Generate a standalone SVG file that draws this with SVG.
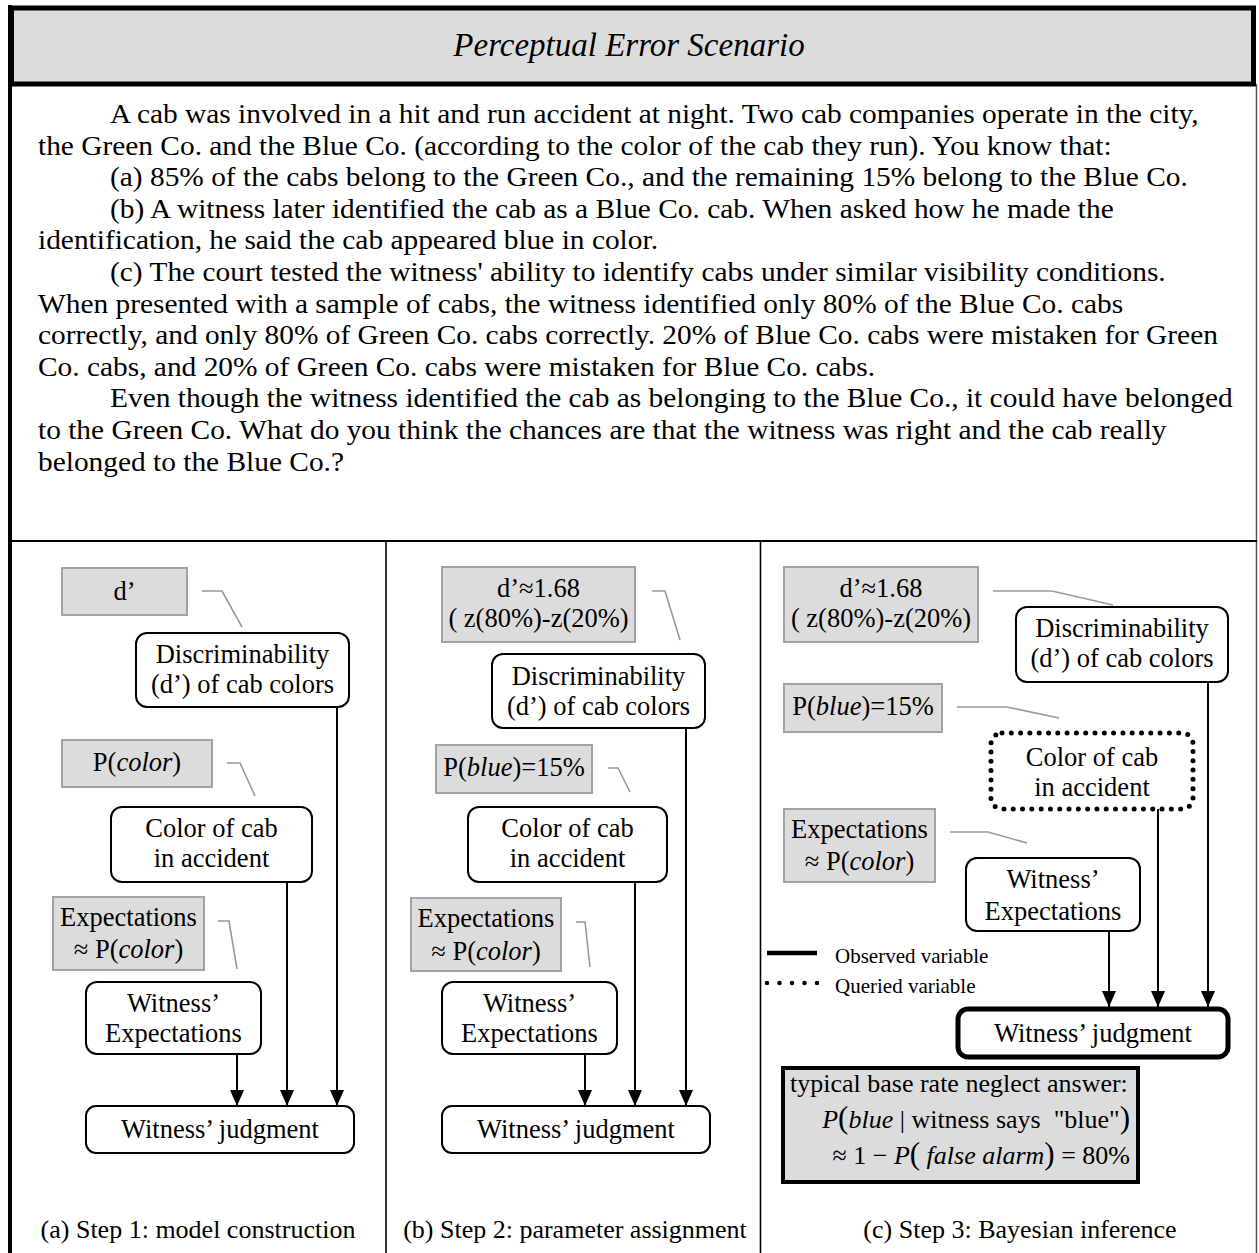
<svg xmlns="http://www.w3.org/2000/svg" width="1259" height="1253" viewBox="0 0 1259 1253">
  <style>
    text { font-family: "Liberation Serif", "Times New Roman", serif; fill: #000; }
    .body { font-size: 28px; }
    .title { font-size: 33px; font-style: italic; }
    .n { font-size: 26.5px; text-anchor: middle; }
    .cap { font-size: 26px; text-anchor: middle; }
    .leg { font-size: 21px; }
    .it { font-style: italic; }
    .node { fill: #fff; stroke: #000; stroke-width: 2; }
    .param { fill: #dcdcdc; stroke: #a3a3a3; stroke-width: 2; }
    .lead { fill: none; stroke: #999; stroke-width: 1.6; }
    .edge { fill: none; stroke: #000; stroke-width: 2; marker-end: url(#arrow); }
    .frame { fill: none; stroke: #000; }
  </style>
  <defs>
    <marker id="arrow" markerUnits="userSpaceOnUse" markerWidth="16" markerHeight="14" viewBox="0 0 16 14" refX="16" refY="7" orient="auto">
      <path d="M0,0 L16,7 L0,14 Z" fill="#000"/>
    </marker>
  </defs>

  <!-- page frame -->
  <g id="frame">
    <line class="frame" x1="10" y1="5" x2="10" y2="1253" stroke-width="4"/>
    <line x1="1256.5" y1="84" x2="1256.5" y2="1253" stroke="#555" stroke-width="1.5"/>
    <line class="frame" x1="10" y1="541" x2="1257" y2="541" stroke-width="2"/>
    <line class="frame" x1="386" y1="541" x2="386" y2="1253" stroke-width="1.6"/>
    <line class="frame" x1="760.5" y1="541" x2="760.5" y2="1253" stroke-width="1.6"/>
  </g>

  <!-- title bar -->
  <g id="header">
    <rect x="11.5" y="8" width="1242" height="76" fill="#dcdcdc" stroke="#000" stroke-width="5"/>
    <text class="title" x="629" y="56" text-anchor="middle">Perceptual Error Scenario</text>
  </g>

  <!-- scenario text (set slightly wide, as in the printed figure) -->
  <g id="scenario" class="body" transform="scale(1.05 1)">
    <text class="body" x="104.8" y="123">A cab was involved in a hit and run accident at night. Two cab companies operate in the city,</text>
    <text class="body" x="36.2" y="154.6">the Green Co. and the Blue Co. (according to the color of the cab they run). You know that:</text>
    <text class="body" x="104.8" y="186.2">(a) 85% of the cabs belong to the Green Co., and the remaining 15% belong to the Blue Co.</text>
    <text class="body" x="104.8" y="217.8">(b) A witness later identified the cab as a Blue Co. cab. When asked how he made the</text>
    <text class="body" x="36.2" y="249.4">identification, he said the cab appeared blue in color.</text>
    <text class="body" x="104.8" y="281">(c) The court tested the witness' ability to identify cabs under similar visibility conditions.</text>
    <text class="body" x="36.2" y="312.6">When presented with a sample of cabs, the witness identified only 80% of the Blue Co. cabs</text>
    <text class="body" x="36.2" y="344.2">correctly, and only 80% of Green Co. cabs correctly. 20% of Blue Co. cabs were mistaken for Green</text>
    <text class="body" x="36.2" y="375.8">Co. cabs, and 20% of Green Co. cabs were mistaken for Blue Co. cabs.</text>
    <text class="body" x="104.8" y="407.4">Even though the witness identified the cab as belonging to the Blue Co., it could have belonged</text>
    <text class="body" x="36.2" y="439">to the Green Co. What do you think the chances are that the witness was right and the cab really</text>
    <text class="body" x="36.2" y="470.6">belonged to the Blue Co.?</text>
  </g>

  <!-- ===== panel (a): model construction ===== -->
  <g id="a-dprime">
    <rect class="param" x="62" y="568" width="125" height="47"/>
    <text class="n" x="124.5" y="600">d’</text>
  </g>
  <g id="a-discrim">
    <rect class="node" x="136" y="633" width="213" height="74" rx="11"/>
    <text class="n" x="242.5" y="663">Discriminability</text>
    <text class="n" x="242.5" y="693">(d’) of cab colors</text>
  </g>
  <g id="a-pcolor">
    <rect class="param" x="62" y="740" width="150" height="47"/>
    <text class="n" x="137" y="771">P(<tspan class="it">color</tspan>)</text>
  </g>
  <g id="a-color">
    <rect class="node" x="111" y="807" width="201" height="75" rx="11"/>
    <text class="n" x="211.5" y="837">Color of cab</text>
    <text class="n" x="211.5" y="867">in accident</text>
  </g>
  <g id="a-expect-param">
    <rect class="param" x="53" y="897" width="151" height="73"/>
    <text class="n" x="128.5" y="926">Expectations</text>
    <text class="n" x="128.5" y="958">≈ P(<tspan class="it">color</tspan>)</text>
  </g>
  <g id="a-expect">
    <rect class="node" x="86" y="982" width="175" height="72" rx="11"/>
    <text class="n" x="173.5" y="1012">Witness’</text>
    <text class="n" x="173.5" y="1042">Expectations</text>
  </g>
  <g id="a-judgment">
    <rect class="node" x="86" y="1106" width="268" height="47" rx="10"/>
    <text class="n" x="220" y="1138">Witness’ judgment</text>
  </g>
  <text class="cap" x="198" y="1238">(a) Step 1: model construction</text>

  <!-- ===== panel (b): parameter assignment ===== -->
  <g id="b-dprime">
    <rect class="param" x="442" y="567" width="193" height="75"/>
    <text class="n" x="538.5" y="597">d’≈1.68</text>
    <text class="n" x="538.5" y="627">( z(80%)-z(20%)</text>
  </g>
  <g id="b-discrim">
    <rect class="node" x="492" y="654" width="213" height="74" rx="11"/>
    <text class="n" x="598.5" y="685">Discriminability</text>
    <text class="n" x="598.5" y="715">(d’) of cab colors</text>
  </g>
  <g id="b-pblue">
    <rect class="param" x="436" y="745" width="156" height="48"/>
    <text class="n" x="514" y="776">P(<tspan class="it">blue</tspan>)=15%</text>
  </g>
  <g id="b-color">
    <rect class="node" x="468" y="807" width="199" height="75" rx="11"/>
    <text class="n" x="567.5" y="837">Color of cab</text>
    <text class="n" x="567.5" y="867">in accident</text>
  </g>
  <g id="b-expect-param">
    <rect class="param" x="411" y="898" width="150" height="73"/>
    <text class="n" x="486" y="927">Expectations</text>
    <text class="n" x="486" y="960">≈ P(<tspan class="it">color</tspan>)</text>
  </g>
  <g id="b-expect">
    <rect class="node" x="442" y="982" width="175" height="72" rx="11"/>
    <text class="n" x="529.5" y="1012">Witness’</text>
    <text class="n" x="529.5" y="1042">Expectations</text>
  </g>
  <g id="b-judgment">
    <rect class="node" x="442" y="1106" width="268" height="47" rx="10"/>
    <text class="n" x="576" y="1138">Witness’ judgment</text>
  </g>
  <text class="cap" x="575" y="1238">(b) Step 2: parameter assignment</text>

  <!-- ===== panel (c): Bayesian inference ===== -->
  <g id="c-dprime">
    <rect class="param" x="784" y="567" width="194" height="75"/>
    <text class="n" x="881" y="597">d’≈1.68</text>
    <text class="n" x="881" y="627">( z(80%)-z(20%)</text>
  </g>
  <g id="c-discrim">
    <rect class="node" x="1016" y="607" width="212" height="75" rx="11"/>
    <text class="n" x="1122" y="637">Discriminability</text>
    <text class="n" x="1122" y="667">(d’) of cab colors</text>
  </g>
  <g id="c-pblue">
    <rect class="param" x="784" y="684" width="158" height="48"/>
    <text class="n" x="863" y="715">P(<tspan class="it">blue</tspan>)=15%</text>
  </g>
  <g id="c-color">
    <rect x="991" y="733" width="202" height="76" rx="11" fill="#fff" stroke="#000" stroke-width="5" stroke-linecap="round" stroke-dasharray="0 9.3"/>
    <text class="n" x="1092" y="766">Color of cab</text>
    <text class="n" x="1092" y="796">in accident</text>
  </g>
  <g id="c-expect-param">
    <rect class="param" x="784" y="809" width="151" height="73"/>
    <text class="n" x="859.5" y="838">Expectations</text>
    <text class="n" x="859.5" y="870">≈ P(<tspan class="it">color</tspan>)</text>
  </g>
  <g id="c-expect">
    <rect class="node" x="966" y="858" width="174" height="73" rx="11"/>
    <text class="n" x="1053" y="888">Witness’</text>
    <text class="n" x="1053" y="920">Expectations</text>
  </g>
  <g id="c-judgment">
    <rect x="958" y="1009" width="270" height="48" rx="10" fill="#fff" stroke="#000" stroke-width="5"/>
    <text class="n" x="1093" y="1042">Witness’ judgment</text>
  </g>
  <g id="c-legend">
    <line x1="767" y1="953" x2="817" y2="953" stroke="#000" stroke-width="4.5"/>
    <text class="leg" x="835" y="963">Observed variable</text>
    <line x1="767" y1="983" x2="818" y2="983" stroke="#000" stroke-width="4.5" stroke-linecap="round" stroke-dasharray="0 12.5"/>
    <text class="leg" x="835" y="993">Queried variable</text>
  </g>
  <g id="c-answer">
    <rect x="783" y="1068" width="355" height="114" fill="#dcdcdc" stroke="#000" stroke-width="4"/>
    <text x="790" y="1092" font-size="26">typical base rate neglect answer:</text>
    <text x="1130" y="1128" font-size="26" text-anchor="end" xml:space="preserve"><tspan class="it">P</tspan><tspan font-size="31">(</tspan><tspan class="it">blue</tspan> | witness says  "blue"<tspan font-size="31">)</tspan></text>
    <text x="1130" y="1164" font-size="26" text-anchor="end" xml:space="preserve">≈ 1 − <tspan class="it">P</tspan><tspan font-size="31">(</tspan> <tspan class="it">false alarm</tspan><tspan font-size="31">)</tspan> = 80%</text>
  </g>
  <text class="cap" x="1020" y="1238">(c) Step 3: Bayesian inference</text>

  <!-- connectors: arrows between nodes and leader lines from parameters -->
  <g id="connectors">
    <line class="edge" x1="237" y1="1054" x2="237" y2="1106"/>
    <line class="edge" x1="287" y1="882" x2="287" y2="1106"/>
    <line class="edge" x1="337" y1="707" x2="337" y2="1106"/>
    <line class="edge" x1="585" y1="1054" x2="585" y2="1106"/>
    <line class="edge" x1="635" y1="882" x2="635" y2="1106"/>
    <line class="edge" x1="686" y1="728" x2="686" y2="1106"/>
    <line class="edge" x1="1109" y1="931" x2="1109" y2="1007"/>
    <line class="edge" x1="1158" y1="809" x2="1158" y2="1007"/>
    <line class="edge" x1="1208" y1="682" x2="1208" y2="1007"/>
    <polyline class="lead" points="202,591 222,591 242,627"/>
    <polyline class="lead" points="227,763 240,763 255,796"/>
    <polyline class="lead" points="218,921 229,921 237,969"/>
    <polyline class="lead" points="652,591 665,591 680,640"/>
    <polyline class="lead" points="608,768 618,768 630,792"/>
    <polyline class="lead" points="576,922 585,922 590,967"/>
    <polyline class="lead" points="993,591 1052,591 1113,605"/>
    <polyline class="lead" points="957,707 1007,707 1059,718"/>
    <polyline class="lead" points="950,832 988,832 1027,843"/>
  </g>
</svg>
